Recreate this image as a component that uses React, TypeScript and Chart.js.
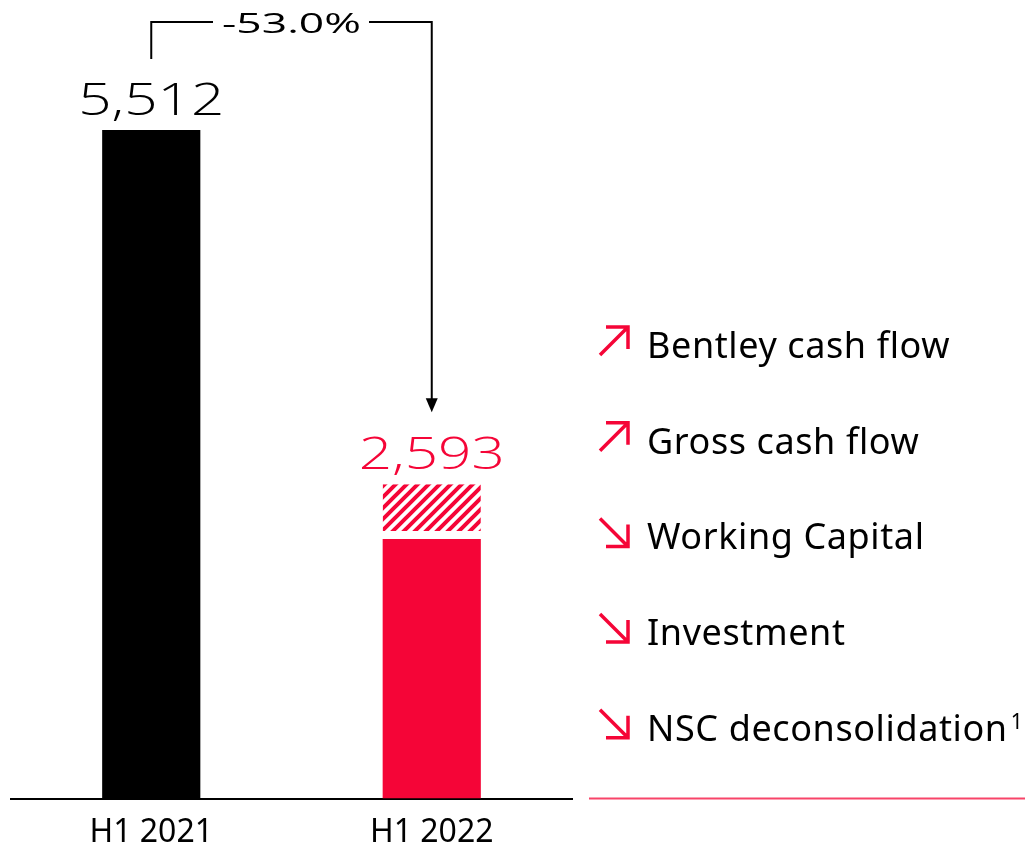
import React, { useEffect, useRef } from "react";
import { Chart, registerables } from "chart.js";

Chart.register(...registerables);

const categories = ["H1 2021", "H1 2022"];
const baseValues = [5512, 2140];
const hatchedValues = [null, 453];
const totalLabels = ["5,512", "2,593"];
const changeLabel = "-53.0%";
const legendLabels = [
  "Bentley cash flow",
  "Gross cash flow",
  "Working Capital",
  "Investment",
  "NSC deconsolidation",
];
const legendDirections = ["up", "up", "down", "down", "down"];
const legendFootnote = "1";

const RED = "#F50537";
const BLACK = "#000000";

function makeHatch(color: string) {
  const s = 11;
  const c = document.createElement("canvas");
  c.width = s;
  c.height = s;
  const g = c.getContext("2d")!;
  g.fillStyle = "#ffffff";
  g.fillRect(0, 0, s, s);
  g.strokeStyle = color;
  g.lineWidth = 4;
  g.beginPath();
  g.moveTo(-2, s + 2);
  g.lineTo(s + 2, -2);
  g.moveTo(-3, 3);
  g.lineTo(3, -3);
  g.moveTo(s - 3, s + 3);
  g.lineTo(s + 3, s - 3);
  g.stroke();
  return g.createPattern(c, "repeat")!;
}

function drawWide(
  ctx: CanvasRenderingContext2D,
  text: string,
  cx: number,
  y: number,
  font: string,
  color: string,
  width: number
) {
  ctx.save();
  ctx.font = font;
  ctx.fillStyle = color;
  ctx.textAlign = "center";
  ctx.textBaseline = "alphabetic";
  const w = ctx.measureText(text).width;
  ctx.translate(cx, y);
  ctx.scale(width / w, 1);
  ctx.fillText(text, 0, 0);
  ctx.restore();
}

const overlayPlugin = {
  id: "overlay",
  afterDraw(chart: any) {
    const ctx: CanvasRenderingContext2D = chart.ctx;
    const yScale = chart.scales.y;
    const meta0 = chart.getDatasetMeta(0).data;
    const xs = meta0.map((e: any) => e.x);
    const tops = categories.map((_, i) =>
      yScale.getPixelForValue(baseValues[i] + (hatchedValues[i] || 0))
    );
    const labelColors = [BLACK, RED];

    // value labels
    categories.forEach((_, i) => {
      drawWide(ctx, totalLabels[i], xs[i], tops[i] - 15, '300 45px "Open Sans"', labelColors[i], 146);
    });

    // change bracket
    const yLine = 22;
    const midX = (xs[0] + xs[1]) / 2;
    const textW = 139;
    ctx.save();
    ctx.strokeStyle = BLACK;
    ctx.lineWidth = 2;
    ctx.beginPath();
    ctx.moveTo(xs[0], tops[0] - 71);
    ctx.lineTo(xs[0], yLine);
    ctx.lineTo(midX - textW / 2 - 9, yLine);
    ctx.moveTo(midX + textW / 2 + 8, yLine);
    ctx.lineTo(xs[1], yLine);
    const tip = tops[1] - 72;
    ctx.lineTo(xs[1], tip - 12);
    ctx.stroke();
    ctx.fillStyle = BLACK;
    ctx.beginPath();
    ctx.moveTo(xs[1] - 6, tip - 14);
    ctx.lineTo(xs[1] + 6, tip - 14);
    ctx.lineTo(xs[1], tip);
    ctx.closePath();
    ctx.fill();
    ctx.restore();
    drawWide(ctx, changeLabel, midX, 33, '400 27px "Open Sans"', BLACK, textW);

    // legend
    const lx = 647;
    const ax = 600;
    const b0 = 358;
    const step = 95.7;
    ctx.save();
    ctx.textAlign = "left";
    ctx.textBaseline = "alphabetic";
    legendLabels.forEach((lab, i) => {
      const b = b0 + i * step;
      ctx.fillStyle = BLACK;
      ctx.font = '36px "Noto Sans"';
      (ctx as any).letterSpacing = "0.6px";
      ctx.fillText(lab, lx, b);
      if (i === legendLabels.length - 1) {
        const w = ctx.measureText(lab).width;
        ctx.font = '21px "Noto Sans"';
        (ctx as any).letterSpacing = "0px";
        ctx.fillText(legendFootnote, lx + w + 3, b - 12);
      }
      (ctx as any).letterSpacing = "0px";
      const y0 = b - 31;
      const s = 28;
      ctx.strokeStyle = RED;
      ctx.lineWidth = 3.5;
      ctx.lineJoin = "miter";
      ctx.beginPath();
      if (legendDirections[i] === "up") {
        ctx.moveTo(ax, y0 + s);
        ctx.lineTo(ax + s, y0);
        ctx.moveTo(ax + 6, y0);
        ctx.lineTo(ax + s, y0);
        ctx.lineTo(ax + s, y0 + s - 6);
      } else {
        ctx.moveTo(ax, y0);
        ctx.lineTo(ax + s, y0 + s);
        ctx.moveTo(ax + 6, y0 + s);
        ctx.lineTo(ax + s, y0 + s);
        ctx.lineTo(ax + s, y0 + 6);
      }
      ctx.stroke();
    });
    // legend rule
    ctx.strokeStyle = "rgba(245,5,55,0.75)";
    ctx.lineWidth = 2;
    ctx.beginPath();
    ctx.moveTo(589, chart.chartArea.bottom);
    ctx.lineTo(1025, chart.chartArea.bottom);
    ctx.stroke();
    ctx.restore();
  },
};

export default function App() {
  const ref = useRef<HTMLCanvasElement>(null);
  useEffect(() => {
    const chart = new Chart(ref.current!, {
      type: "bar",
      data: {
        labels: categories,
        datasets: [
          {
            data: baseValues,
            backgroundColor: [BLACK, RED],
            borderWidth: 0,
            barPercentage: 0.35,
            categoryPercentage: 1,
          },
          {
            data: hatchedValues as any,
            backgroundColor: makeHatch(RED),
            borderColor: "#ffffff",
            borderWidth: { top: 0, left: 0, right: 0, bottom: 8 } as any,
            borderSkipped: false,
            barPercentage: 0.35,
            categoryPercentage: 1,
          },
        ],
      },
      options: {
        animation: false,
        responsive: true,
        maintainAspectRatio: false,
        layout: { padding: { left: 11, right: 453, top: 20, bottom: -24 } },
        plugins: { legend: { display: false }, tooltip: { enabled: false } },
        scales: {
          x: {
            stacked: true,
            grid: { display: false, drawTicks: false },
            border: { display: true, color: BLACK, width: 2 },
            ticks: {
              color: BLACK,
              padding: 15,
              font: { family: '"Noto Sans"', size: 32 },
            },
          },
          y: { stacked: true, display: false, min: 0, max: 6420 },
        },
      },
      plugins: [overlayPlugin],
    });
    return () => chart.destroy();
  }, []);
  return (
    <div style={{ position: "fixed", left: 0, top: 0, width: 1025, height: 843, background: "#fff" }}>
      <canvas ref={ref} />
    </div>
  );
}
